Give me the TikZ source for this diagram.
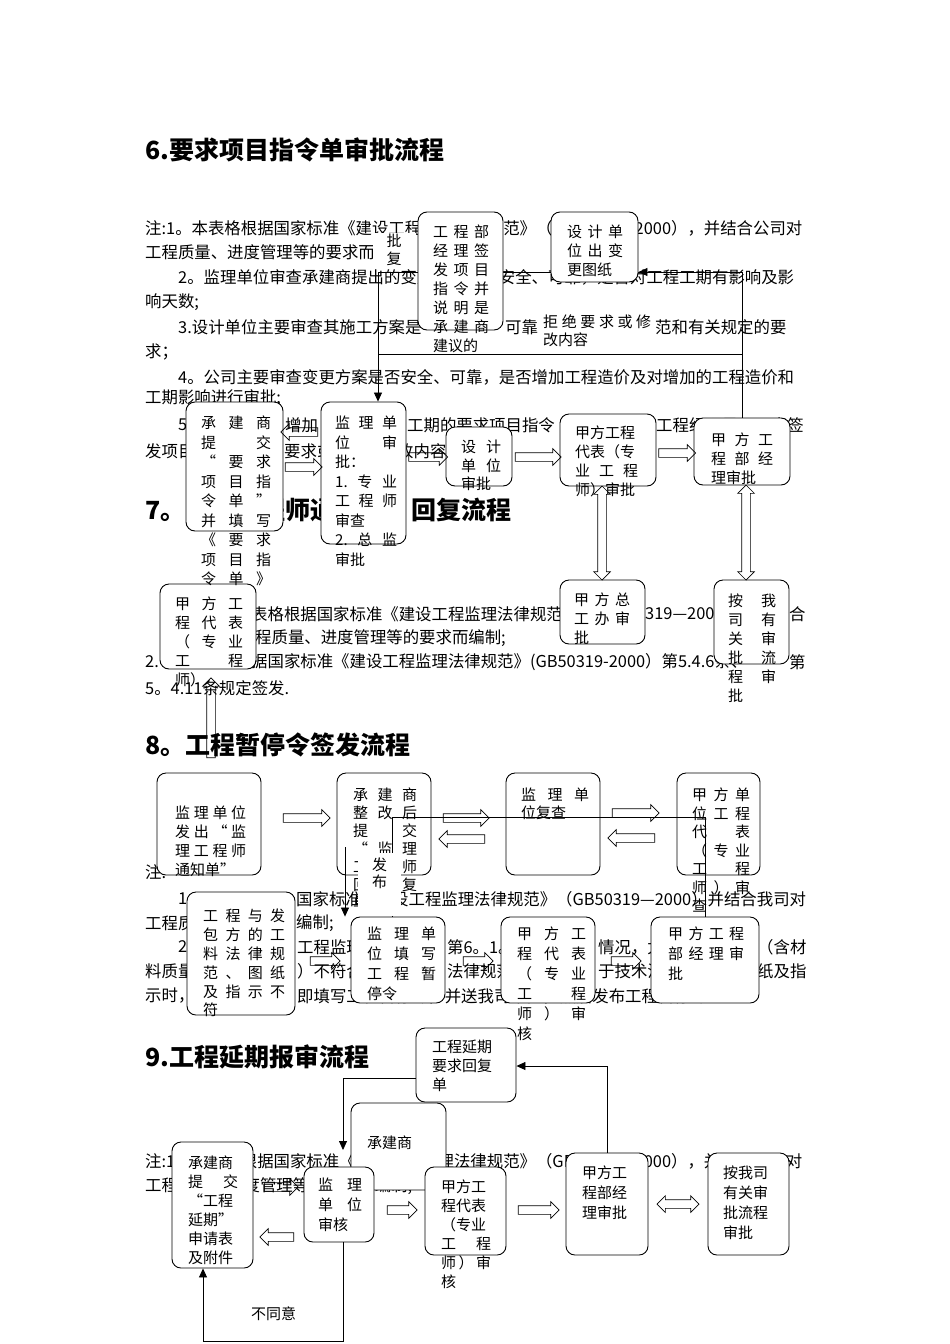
\documentclass[tikz,border=0pt]{standalone}
\usepackage{fontspec}
\setmainfont{Noto Sans CJK SC}
\usetikzlibrary{shapes.arrows,arrows.meta}

\tikzset{
  box/.style 2 args={draw, line width=0.9pt, rounded corners=9pt, fill=white, inner sep=0pt, minimum width=#1pt, minimum height=#2pt},
  btxt/.style={anchor=north west, inner sep=0pt, align=flush left, text width=#1pt, font=\fontsize{15}{19}\selectfont},
  note/.style={anchor=west, inner sep=0pt, font=\fontsize{16.4}{20}\selectfont},
  head/.style={anchor=west, inner sep=0pt, font=\fontsize{25}{30}\selectfont\bfseries},
  lab/.style={fill=white, inner sep=0pt, font=\fontsize{15}{18}\selectfont},
  rarr/.style={single arrow, draw, line width=0.7pt, inner sep=4pt, single arrow head extend=4pt, minimum height=#1pt},
  darr/.style={double arrow, draw, line width=0.7pt, inner sep=4pt, double arrow head extend=4pt, minimum height=#1pt},
  link/.style={line width=0.8pt},
  arr/.style={link, -{Triangle[length=9pt,width=8pt]}},
}

\begin{document}
\begin{tikzpicture}[x=1pt,y=-1pt]
\fill[white] (0,0) rectangle (950,1344);
\useasboundingbox (0,0) rectangle (950,1344);

% 6. 标题与说明
\node[head] (h6) at (145,150) {6.要求项目指令单审批流程};
\node[note] (n6a) at (145,228) {注:1。本表格根据国家标准《建设工程监理法律规范》（GB50319—2000），并结合公司对};
\node[note] (n6b) at (145,253) {工程质量、进度管理等的要求而编制;};
\node[note] (n6c) at (178,277) {2。监理单位审查承建商提出的变更方案是否安全、可靠，是否对工程工期有影响及影};
\node[note] (n6d) at (145,302) {响天数;};
\node[note] (n6e) at (178,327) {3.设计单位主要审查其施工方案是};
\node[note] (n6f) at (505,327) {可靠};
\node[note] (n6g) at (655,327) {范和有关规定的要};
\node[note] (n6h) at (145,352) {求；};
\node[note] (n6i) at (178,377) {4。公司主要审查变更方案是否安全、可靠，是否增加工程造价及对增加的工程造价和};
\node[note] (n6j) at (145,398) {工期影响进行审批;};
\node[note] (n6k) at (178,425) {5};
\node[note] (n6l) at (285,425) {增加};
\node[note] (n6m) at (407,425) {工期的要求项目指令};
\node[note] (n6n) at (656,425) {工程经理是否同意签};
\node[note] (n6o) at (145,451) {发项目};
\node[note] (n6p) at (284,451) {要求或};
\node[note] (n6q) at (397,451) {改内容};

% 7. 标题与说明
\node[head] (h7a) at (145,510) {7。监理工程师通知单};
\node[head] (h7b) at (411,510) {回复流程};
\node[note] (n7a) at (251,614) {表格根据国家标准《建设工程监理法律规范》（GB50};
\node[note] (n7b) at (645,614) {319—2000};
\node[note] (n7c) at (789,614) {合};
\node[note] (n7d) at (255,638) {程质量、进度管理等的要求而编制;};
\node[note] (n7e) at (145,662) {2.};
\node[note] (n7f) at (251,662) {据国家标准《建设工程监理法律规范》(GB50319-2000）第5.4.6条、};
\node[note] (n7g) at (789,662) {第};
\node[note] (n7h) at (145,688) {5。4.11条规定签发.};

% 8. 标题与说明
\node[head] (h8) at (145,745) {8。工程暂停令签发流程};
\node[note] (n8a) at (145,872) {注:};
\node[note] (n8b) at (178,899) {1};
\node[note] (n8c) at (296,899) {国家标准《建};
\node[note] (n8d) at (392,899) {设工程监理法律规范》（GB50319—2000）并结合我司对};
\node[note] (n8e) at (145,923) {工程质};
\node[note] (n8f) at (296,923) {编制;};
\node[note] (n8g) at (178,947) {2};
\node[note] (n8h) at (297,947) {工程监理};
\node[note] (n8i) at (447,947) {第6。1。};
\node[note] (n8j) at (598,947) {情况，尤};
\node[note] (n8k) at (757,947) {（含材};
\node[note] (n8l) at (145,971) {料质量};
\node[note] (n8m) at (297,971) {）不符合};
\node[note] (n8n) at (447,971) {法律规范};
\node[note] (n8o) at (598,971) {于技术法};
\node[note] (n8p) at (757,971) {纸及指};
\node[note] (n8q) at (145,996) {示时，};
\node[note] (n8r) at (297,996) {即填写工程暂停令，并送我司审批，然后发布工程暂停令。};

% 9. 标题与说明
\node[head] (h9) at (145,1057) {9.工程延期报审流程};
\node[note] (n9a) at (145,1161) {注:1。本表格根据国家标准《建设工程监理法律规范》（GB50319—2000），并结合我司对};
\node[note] (n9b) at (145,1186) {工程质量、进度管理等的要求而编制;};

% 框后的连线
\coordinate (l1) at (378,272);
\coordinate (r1) at (742,272);
\coordinate (l2) at (378,354);
\draw[link] (l1) -- (r1);

% 6. 流程框
\node[box={87}{70}] (a1) at (594.5,247) {};
\node[box={85}{118}] (a2) at (460.5,271) {};
\node[box={97}{129}] (a3) at (234.5,466.5) {};
\node[box={85}{142}] (a4) at (363.5,473) {};
\node[box={66}{59}] (a5) at (479,456.5) {};
\node[box={96}{72}] (a6) at (608,450) {};
\node[box={96}{67}] (a7) at (742,451.5) {};
\node[box={85}{64}] (a8) at (602.5,612) {};
\node[box={75}{84}] (a9) at (751.5,622) {};
\node[box={96}{85}] (b1) at (208,626.5) {};

\node[btxt=56] (a1t) at (567,225) {设\hfill 计\hfill 单\\位\hfill 出\hfill 变\\更图纸};
\node[btxt=56] (a2t) at (433,225) {工\hfill 程\hfill 部\\经\hfill 理\hfill 签\\发\hfill 项\hfill 目\\指\hfill 令\hfill 并\\说\hfill 明\hfill 是\\承\hfill 建\hfill 商\\建议的};
\node[btxt=70, font=\fontsize{15}{19.5}\selectfont] (a3t) at (201,416) {承\hfill 建\hfill 商\\提\hfill 交\\“\hfill 要\hfill 求\\项\hfill 目\hfill 指\\令\hfill 单\hfill ”\\并\hfill 填\hfill 写\\《\hfill 要\hfill 求\\项\hfill 目\hfill 指\\令\hfill 单\hfill 》};
\node[btxt=62, font=\fontsize{15}{19.5}\selectfont] (a4t) at (335,416) {监\hfill 理\hfill 单\\位\hfill 审\\批：\\1.\hfill 专\hfill 业\\工\hfill 程\hfill 师\\审查\\2.\hfill 总\hfill 监\\审批};
\node[btxt=40, font=\fontsize{15}{18.5}\selectfont] (a5t) at (461,440) {设\hfill 计\\单\hfill 位\\审批};
\node[btxt=63] (a6t) at (575,426) {甲方工程\\代表（专\\业\hfill 工\hfill 程\\师）审批};
\node[btxt=62] (a7t) at (711,433) {甲\hfill 方\hfill 工\\程\hfill 部\hfill 经\\理审批};
\node[btxt=56] (a8t) at (574,593) {甲\hfill 方\hfill 总\\工\hfill 办\hfill 审\\批};
\node[btxt=48] (a9t) at (728,594) {按\hfill 我\\司\hfill 有\\关\hfill 审\\批\hfill 流\\程\hfill 审\\批};
\node[btxt=68] (b1t) at (175,597) {甲\hfill 方\hfill 工\\程\hfill 代\hfill 表\\（\hfill 专\hfill 业\\工\hfill 程\\师）};

% 6. 标签
\node[lab, align=center, inner xsep=14pt, inner ysep=1pt] (pifu) at (394,250) {批\\复};
\node[lab, anchor=north west, text width=108pt, align=flush left, inner xsep=3pt, inner ysep=2pt] (jujue) at (540,313) {拒\hfill 绝\hfill 要\hfill 求\hfill 或\hfill 修\\改内容};

% 6. 连线
\draw[arr] (l1) -- (l1 |- a4.north);
\draw[arr] (a7.north) -- (r1) -- (a1.east |- r1);
\draw[link] (l2) -- (l2 -| r1);

\node[rarr=37, rotate=180] (k1) at (301.5,432) {};
\node[rarr=37] (k2) at (301.5,467) {};
\node[rarr=39] (k3) at (426,457) {};
\node[rarr=46] (k4) at (536,457) {};
\node[rarr=37] (k5) at (675,453) {};
\node[darr=94, rotate=90] (k6) at (602,533) {};
\node[darr=95, rotate=90] (k7) at (746,532.5) {};
\node[rarr=80, rotate=90] (k8) at (211,720) {};

% 8. 流程框
\node[box={104}{102}] (c1) at (209,824) {};
\node[box={94}{102}] (c2) at (384,824) {};
\node[box={94}{102}] (c3) at (553,824) {};
\node[box={83}{102}] (c4) at (718.5,824) {};
\node[box={108}{123}] (c5) at (241,953.5) {};
\node[box={94}{86}] (c6) at (398,960) {};
\node[box={94}{86}] (c7) at (548,960) {};
\node[box={108}{86}] (c8) at (705,960) {};

\node[btxt=71] (c1t) at (175,806) {监\hfill 理\hfill 单\hfill 位\\发\hfill 出\hfill “\hfill 监\\理\hfill 工\hfill 程\hfill 师\\通知单”};
\node[btxt=64, font=\fontsize{15}{18}\selectfont] (c2t) at (353,788) {承\hfill 建\hfill 商\\整\hfill 改\hfill 后\\提\hfill 交\\“\hfill 监\hfill 理\\工\hfill 程\hfill 师\\回\hfill 复\\单”};
\node[btxt=68, font=\fontsize{15}{18}\selectfont] (c3t) at (521,788) {监\hfill 理\hfill 单\\位复查};
\node[btxt=58, font=\fontsize{15}{18.5}\selectfont] (c4t) at (692,788) {甲\hfill 方\hfill 单\\位\hfill 工\hfill 程\\代\hfill 表\\（\hfill 专\hfill 业\\工\hfill 程\\师\hfill ）\hfill 审\\查};
\node[btxt=82, font=\fontsize{15}{18.8}\selectfont] (c5t) at (203,909) {工\hfill 程\hfill 与\hfill 发\\包\hfill 方\hfill 的\hfill 工\\料\hfill 法\hfill 律\hfill 规\\范\hfill 、\hfill 图\hfill 纸\\及\hfill 指\hfill 示\hfill 不\\符};
\node[btxt=69, font=\fontsize{15}{20}\selectfont] (c6t) at (367,927) {监\hfill 理\hfill 单\\位\hfill 填\hfill 写\\工\hfill 程\hfill 暂\\停令};
\node[btxt=69, font=\fontsize{15}{20}\selectfont] (c7t) at (517,927) {甲\hfill 方\hfill 工\\程\hfill 代\hfill 表\\（\hfill 专\hfill 业\\工\hfill 程\\师\hfill ）\hfill 审\\核};
\node[btxt=76, font=\fontsize{15}{20}\selectfont] (c8t) at (668,927) {甲\hfill 方\hfill 工\hfill 程\\部\hfill 经\hfill 理\hfill 审\\批};

% 8. 连线
\coordinate (m1) at (392,817);
\coordinate (m2) at (705,817);
\coordinate (m3) at (345,847);
\draw[link] (c8.north) -- (m2) -- (m1) -- (m1 |- c6.north);
\draw[arr] (m3) -- (m3 |- c6.north);
\node[lab, minimum width=43pt, minimum height=63pt] (fabu) at (379.5,884.5) {};
\node[btxt=16, font=\fontsize{15}{17}\selectfont] (fabut) at (372,858) {发\\布};

\node[rarr=47] (k9) at (304.5,818) {};
\node[rarr=46] (k10) at (464,818) {};
\node[rarr=46, rotate=180] (k11) at (464,839) {};
\node[rarr=47] (k12) at (633.5,813) {};
\node[rarr=47, rotate=180] (k13) at (633.5,838) {};
\node[rarr=30] (k14) at (323,961) {};
\node[rarr=30] (k15) at (476,961) {};
\node[rarr=30] (k16) at (624,961) {};

% 9. 流程框
\node[box={81}{126}] (d0) at (212.5,1205) {};
\node[box={100}{74}] (d1) at (466,1065) {};
\node[box={95}{87}] (d2) at (398.5,1146.5) {};
\node[box={70}{75}] (d3) at (339,1204.5) {};
\node[box={81}{88}] (d4) at (465.5,1211) {};
\node[box={82}{102}] (d5) at (607,1204) {};
\node[box={81}{102}] (d6) at (748.5,1204) {};

\node[btxt=50] (d0t) at (188,1156) {承建商\\提\hfill 交\\“工程\\延期”\\申请表\\及附件};
\node[btxt=64] (d1t) at (432,1040) {工程延期\\要求回复\\单};
\node[btxt=60] (d2t) at (367,1136) {承建商};
\node[btxt=44, font=\fontsize{15}{20}\selectfont] (d3t) at (318,1178) {监\hfill 理\\单\hfill 位\\审核};
\node[btxt=50] (d4t) at (441,1180) {甲方工\\程代表\\（专业\\工\hfill 程\\师\hfill ）\hfill 审\\核};
\node[btxt=50, font=\fontsize{15}{20}\selectfont] (d5t) at (582,1166) {甲方工\\程部经\\理审批};
\node[btxt=50, font=\fontsize{15}{20}\selectfont] (d6t) at (723,1166) {按我司\\有关审\\批流程\\审批};

% 9. 连线
\coordinate (p1) at (343,1078);
\coordinate (p2) at (343,1150);
\coordinate (p3) at (607,1066);
\coordinate (p4) at (343,1341);
\coordinate (p5) at (203,1341);
\draw[arr] (d1.west |- p1) -- (p1) -- (p2);
\draw[arr] (d5.north) -- (p3) -- (d1.east |- p3);
\draw[arr] (p4 |- d3.south) -- (p4) -- (p5) -- (p5 |- d0.south);
\node[note, font=\fontsize{15}{18}\selectfont] (bty) at (251,1314) {不同意};

\node[rarr=34] (k17) at (279,1187) {};
\node[rarr=34, rotate=180] (k18) at (279,1237) {};
\node[rarr=30] (k19) at (400,1210) {};
\node[rarr=41] (k20) at (536.5,1210) {};
\node[darr=42] (k21) at (678,1204) {};

\end{tikzpicture}
\end{document}
